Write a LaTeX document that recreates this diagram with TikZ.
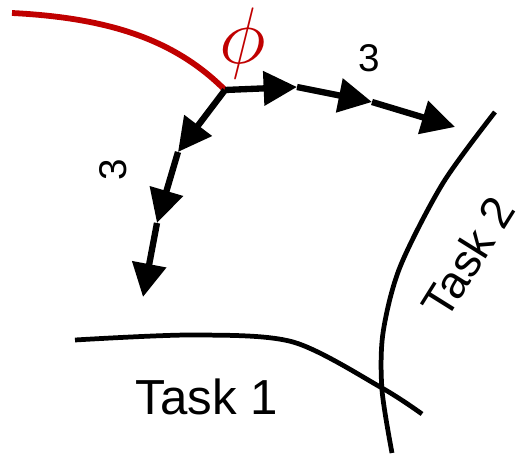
\documentclass[tikz,border=0pt]{standalone}
\usepackage{amsmath,amssymb}
\usepackage{fontspec}
\setmainfont{Liberation Sans}
\usepackage{xcolor}
\usetikzlibrary{arrows.meta}
\definecolor{phired}{RGB}{192,0,0}

\begin{document}
\begin{tikzpicture}[x=0.02cm,y=-0.02cm,
  stride/.style={line width=3.6pt,-{Triangle[length=19pt,width=19pt]}},
  task/.style={line width=2.7pt},
  lbl/.style={font=\fontsize{22}{24}\selectfont}]
\useasboundingbox (0,0) rectangle (524,455);
\coordinate (o) at (225,90);
\draw[phired,line width=3.3pt] (12,13) .. controls (110,18) and (175,40) .. (o);
\coordinate (r1) at (297,87);
\coordinate (r2) at (372,102);
\coordinate (r3) at (455,127);
\coordinate (d1) at (178,152);
\coordinate (d2) at (157,223);
\coordinate (d3) at (143,297);
\draw[stride] (o) -- (r1);
\draw[stride] (r1) -- (r2);
\draw[stride] (r2) -- (r3);
\draw[stride] (o) -- (d1);
\draw[stride] (d1) -- (d2);
\draw[stride] (d2) -- (d3);
\node[text=phired,font=\fontsize{20}{24}\selectfont] (phi) at (243,43) {\scalebox{2.2}{$\phi$}};
\node[lbl] (stepr) at (369,58) {3};
\node[lbl,rotate=90] (stepd) at (113,170) {3};
\draw[task] plot[smooth] coordinates {(75,340) (193,335) (293,342) (382,388) (422,414)};
\draw[task] plot[smooth] coordinates {(495,112) (443,183) (400,267) (383,333) (382,390) (392,453)};
\node[font=\fontsize{28}{30}\selectfont] (task1) at (207,397) {Task 1};
\node[font=\fontsize{26}{30}\selectfont,rotate=58] (task2) at (468,257) {Task 2};
\end{tikzpicture}
\end{document}
